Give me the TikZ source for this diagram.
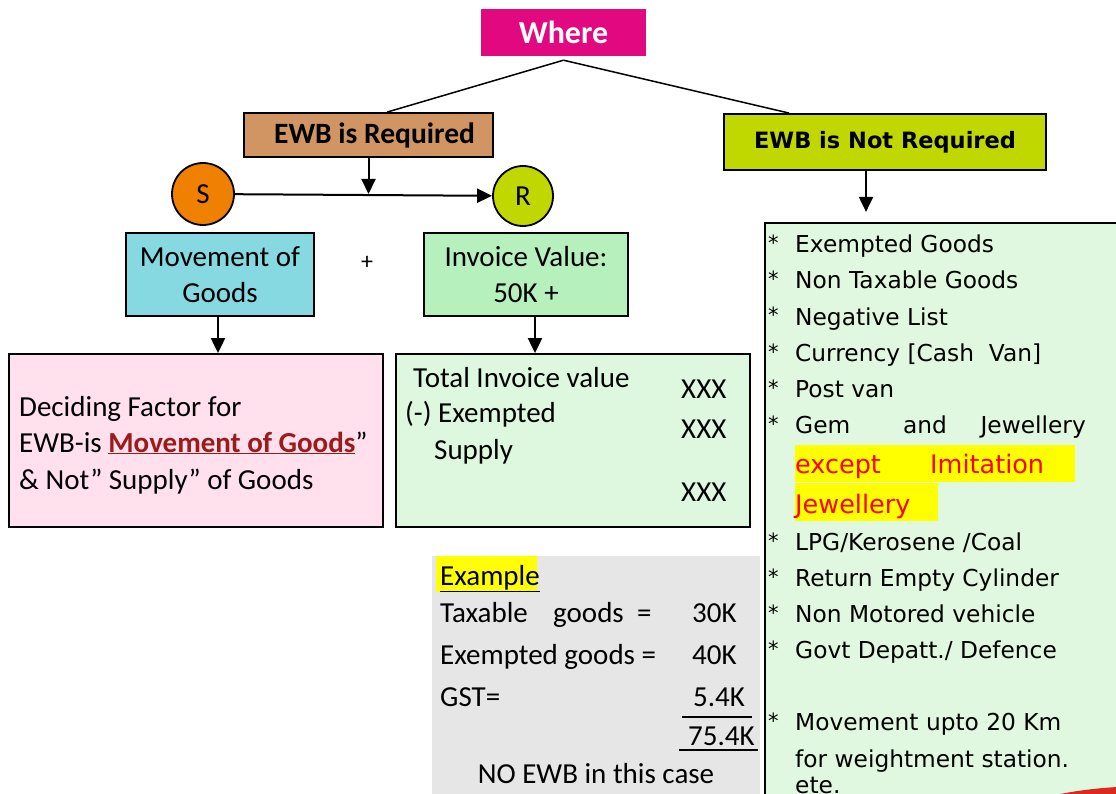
\documentclass[tikz,border=0pt]{standalone}
\usepackage{fontspec}
\setmainfont{Carlito}
\newfontfamily\verd{DejaVu Sans}
\usetikzlibrary{arrows.meta}
\definecolor{cwhere}{RGB}{226,8,128}
\definecolor{creq}{RGB}{209,149,99}
\definecolor{clime}{RGB}{192,216,0}
\definecolor{corange}{RGB}{240,128,0}
\definecolor{ccyan}{RGB}{134,217,224}
\definecolor{cinv}{RGB}{181,240,189}
\definecolor{cpink}{RGB}{255,224,236}
\definecolor{cgreen}{RGB}{222,248,224}
\definecolor{cgray}{RGB}{230,230,230}
\definecolor{cright}{RGB}{224,248,224}
\definecolor{cdred}{RGB}{155,27,27}
\definecolor{cred}{RGB}{255,0,0}
\definecolor{cyel}{RGB}{255,255,0}
\definecolor{cblob}{RGB}{220,40,30}
\tikzset{
  box/.style={draw=black, line width=1.8pt, inner sep=0pt},
  conn/.style={line width=2pt, -{Triangle[length=15pt,width=14pt]}},
  tie/.style={line width=1.5pt},
  lt/.style={inner sep=0pt, anchor=base west, font=\fontsize{29}{34}\selectfont},
  rt/.style={inner sep=0pt, anchor=base west, font=\verd\fontsize{23.3}{28}\selectfont},
  rred/.style={inner sep=0pt, anchor=base west, text=cred, font=\verd\fontsize{25.5}{30}\selectfont},
  ast/.style={inner sep=0pt, anchor=base west, font=\verd\fontsize{21}{26}\selectfont},
}
\begin{document}
\begin{tikzpicture}[x=1pt,y=-1pt]
\useasboundingbox (0,0) rectangle (1116,794);
% boxes
\node[fill=cwhere, inner sep=0pt, minimum width=165pt, minimum height=47pt, text=white, font=\bfseries\fontsize{32}{36}\selectfont] (where) at (563.5,32.5) {Where};
\node[box, fill=creq, minimum width=249pt, minimum height=44pt, font=\bfseries\fontsize{29.5}{34}\selectfont] (req) at (368.5,135) {\hspace{12pt}EWB is Required};
\node[box, fill=clime, minimum width=322pt, minimum height=56pt, font=\verd\bfseries\fontsize{22.5}{28}\selectfont] (notreq) at (885,142) {EWB is Not Required};
\node[box, circle, fill=corange, minimum size=62pt, font=\fontsize{29}{32}\selectfont] (S) at (203,194) {S};
\node[box, circle, fill=clime, minimum size=60pt, font=\fontsize{29}{32}\selectfont] (R) at (523,196) {R};
\node[inner sep=0pt, font=\fontsize{24}{28}\selectfont] (plus) at (367,263) {+};
\node[box, fill=ccyan, minimum width=188pt, minimum height=83pt, align=center, font=\fontsize{29}{36}\selectfont] (mov) at (220,274.5) {Movement of\\Goods};
\node[box, fill=cinv, minimum width=204pt, minimum height=83pt, align=center, font=\fontsize{29}{36}\selectfont] (inv) at (526,274.5) {Invoice Value:\\50K +};
\node[box, fill=cpink, minimum width=374pt, minimum height=173pt] (pink) at (196,440.5) {};
\node[box, fill=cgreen, minimum width=354pt, minimum height=173pt] (grn) at (573,440.5) {};
\node[fill=cgray, inner sep=0pt, minimum width=328pt, minimum height=244pt] (gray) at (596,678) {};
\node[draw=black, line width=1.5pt, fill=cright, inner sep=0pt, minimum width=375pt, minimum height=597pt] (rbox) at (952.5,521.5) {};
% red blob at bottom right
\fill[cblob] (1150,830) ellipse [x radius=156pt, y radius=44pt];
% connectors
\coordinate (apex) at ([yshift=-4pt]where.south);
\draw[tie] (apex) -- ([xshift=144pt]req.north west);
\draw[tie] (apex) -- ([xshift=66pt]notreq.north west);
\draw[conn] (req.south) -- (req.south |- S.east);
\draw[conn] (S) -- (R);
\draw[conn] ([xshift=-2pt]mov.south) -- ([xshift=-2pt]mov.south |- pink.north);
\draw[conn] ([xshift=9pt]inv.south) -- ([xshift=9pt]inv.south |- grn.north);
\coordinate (nrend) at ([xshift=-19pt,yshift=-41pt]notreq.south);
\draw[conn] ([xshift=-19pt]notreq.south) -- (nrend);
% pink box text
\node[lt] (p1) at (19,416) {Deciding Factor for};
\node[lt] (p2) at (19,452) {EWB-is {\bfseries\color{cdred}\underline{Movement of Goods}}”};
\node[lt] (p3) at (19,489) {\& Not” Supply” of Goods};
% green box text
\node[lt] (g1) at (413,387) {Total Invoice value};
\node[lt] (g2) at (405,422) {(-) Exempted};
\node[lt] (g3) at (434,459) {Supply};
\node[lt] (x1) at (681,398) {XXX};
\node[lt] (x2) at (681,438) {XXX};
\node[lt] (x3) at (681,501) {XXX};
% gray example box
\fill[cyel] (436,556) rectangle (537,592);
\node[lt] (e0) at (440,585) {\underline{Example}};
\node[lt] (e1) at (440,622) {Taxable};
\node[lt] (e1b) at (553,622) {goods};
\node[lt] (e1c) at (637,622) {=};
\node[lt] (e1d) at (692,622) {30K};
\node[lt] (e2) at (440,664) {Exempted goods =};
\node[lt] (e2d) at (692,664) {40K};
\node[lt] (e3) at (440,706) {GST=};
\node[lt] (e3d) at (693,706) {5.4K};
\draw[line width=1.3pt] (682,717) -- (752,717);
\node[lt] (e4d) at (688,745) {75.4K};
\draw[line width=1.3pt] (679,750) -- (758,750);
\node[lt, anchor=base] (e5) at (596,783) {NO EWB in this case};
% right box text
\fill[cyel] (795,445) rectangle (1075,482);
\fill[cyel] (795,483) rectangle (938,521);
\node[ast] (a1) at (768,251) {*};
\node[rt] (r1) at (795,253) {Exempted Goods};
\node[ast] (a2) at (768,287) {*};
\node[rt] (r2) at (795,289) {Non Taxable Goods};
\node[ast] (a3) at (768,323) {*};
\node[rt] (r3) at (795,325) {Negative List};
\node[ast] (a4) at (768,359) {*};
\node[rt] (r4) at (795,361) {Currency [Cash\ \ Van]};
\node[ast] (a5) at (768,395) {*};
\node[rt] (r5) at (795,397) {Post van};
\node[ast] (a6) at (768,431) {*};
\node[rt] (r6) at (795,433) {Gem};
\node[rt, anchor=base] (r6b) at (925,433) {and};
\node[rt, anchor=base east] (r6c) at (1086,433) {Jewellery};
\node[rred] (r7) at (795,473) {except};
\node[rred] (r7b) at (930,473) {Imitation};
\node[rred] (r8) at (795,513) {Jewellery};
\node[ast] (a9) at (768,548) {*};
\node[rt] (r9) at (795,550) {LPG/Kerosene /Coal};
\node[ast] (a10) at (768,584) {*};
\node[rt] (r10) at (795,586) {Return Empty Cylinder};
\node[ast] (a11) at (768,620) {*};
\node[rt] (r11) at (795,622) {Non Motored vehicle};
\node[ast] (a12) at (768,656) {*};
\node[rt] (r12) at (795,658) {Govt Depatt./ Defence};
\node[ast] (a13) at (768,728) {*};
\node[rt] (r13) at (795,730) {Movement upto 20 Km};
\node[rt] (r14) at (795,767) {for weightment station.};
\node[rt] (r15) at (795,793) {ete.};
\end{tikzpicture}
\end{document}
